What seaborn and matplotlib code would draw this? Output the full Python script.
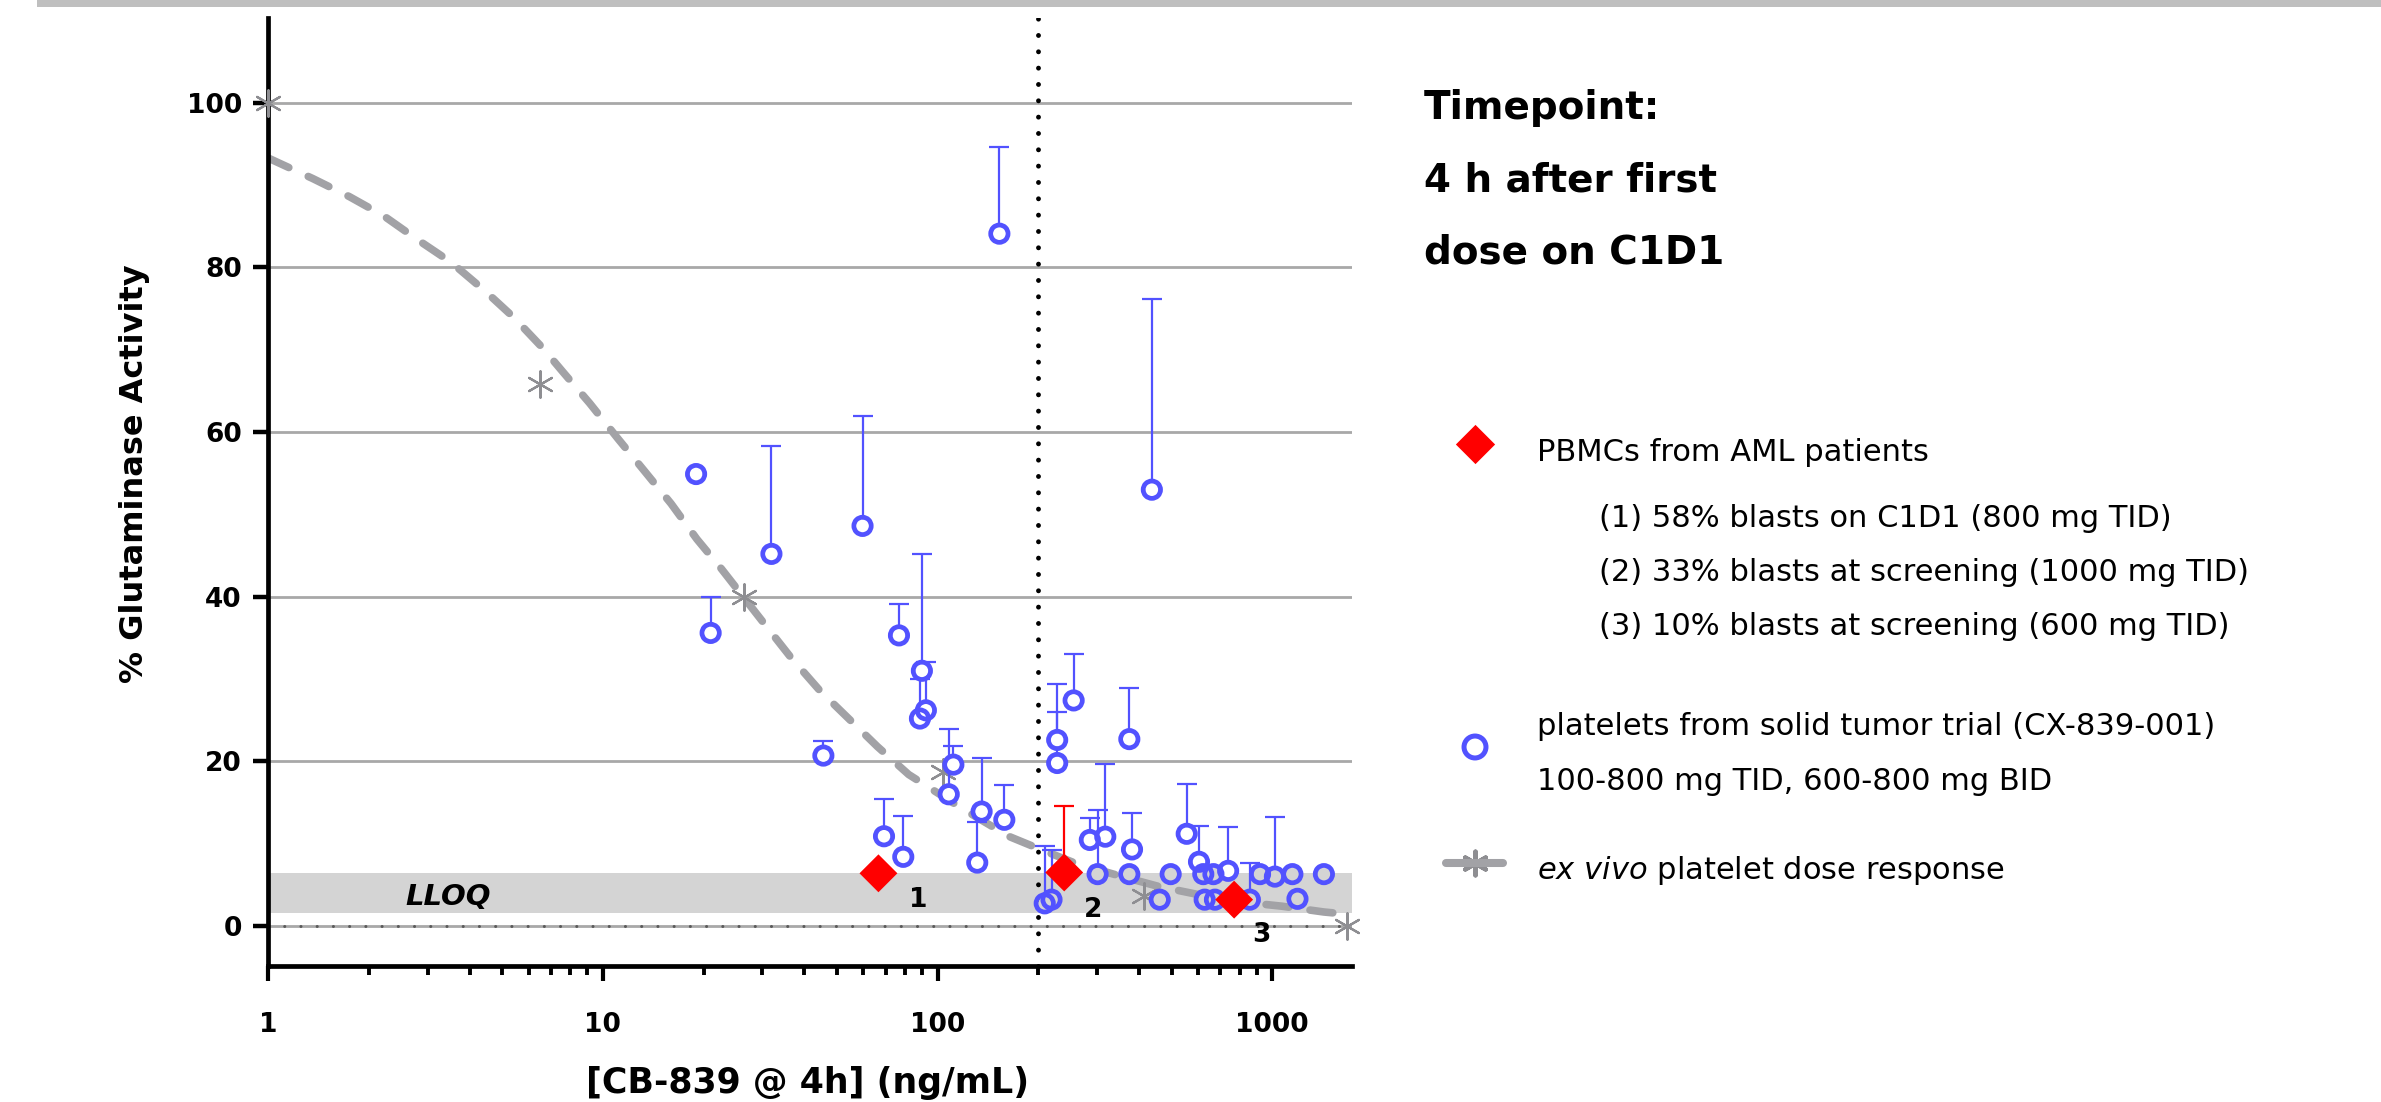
import numpy as np
import matplotlib
matplotlib.use("Agg")
import matplotlib.pyplot as plt
from matplotlib.patches import Rectangle
from matplotlib.ticker import FixedLocator, LogLocator, NullFormatter
import seaborn as sns

# platelets from solid tumor trial: CB-839 conc (ng/mL), % activity, top of error bar
plt_conc = [19.0, 21.0, 31.9, 45.6, 59.7, 69.2, 79.0, 76.7, 89.8, 92.3, 88.6, 108, 111.5,
            131.4, 135.4, 158.3, 153, 209, 219, 227.7, 227.7, 255, 285, 300.7, 317, 374,
            381, 374, 436.7, 461, 497, 555, 604, 622, 667, 628, 674, 738, 857, 919, 1018,
            1148, 1189, 1426]
plt_act = [54.9, 35.6, 45.2, 20.7, 48.6, 10.9, 8.4, 35.3, 31.0, 26.2, 25.2, 16.0, 19.6,
           7.7, 13.9, 12.9, 84.1, 2.75, 3.2, 19.8, 22.6, 27.4, 10.45, 6.3, 10.85, 22.7,
           9.3, 6.3, 53.0, 3.2, 6.3, 11.2, 7.8, 6.3, 6.3, 3.2, 3.2, 6.7, 3.2, 6.3, 6.0,
           6.3, 3.3, 6.3]
plt_err_top = [54.9, 40.0, 58.3, 22.5, 62.0, 15.4, 13.4, 39.1, 45.2, 32.1, 30.0, 23.9, 21.9,
               12.6, 20.4, 17.1, 94.6, 9.75, 9.2, 26.0, 29.4, 33.0, 13.1, 14.1, 19.7, 28.9,
               13.7, 6.3, 76.2, 3.2, 6.3, 17.3, 12.1, 6.3, 6.3, 3.2, 3.2, 12.0, 7.7, 6.3, 13.2,
               6.3, 3.3, 6.3]

# PBMCs from AML patients
aml_conc = [66.6, 239, 769]
aml_act = [6.4, 6.5, 3.2]
aml_err_top = [6.4, 14.6, 3.2]
aml_ids = ["1", "2", "3"]
aml_id_x = [87.3, 292, 925]
aml_id_y = [3.1, 1.9, -1.1]
aml_notes = ["(1) 58% blasts on C1D1 (800 mg TID)",
             "(2) 33% blasts at screening (1000 mg TID)",
             "(3) 10% blasts at screening (600 mg TID)"]

ev_conc = [1, 6.5, 26.4, 104, 414, 1670]
ev_act = [100, 65.8, 40.0, 18.7, 3.6, 0.0]
fit_conc = [1.0, 1.36, 1.75, 2.21, 2.79, 3.53, 4.46, 5.43, 6.62, 7.64, 9.14, 11.1, 13.3,
            16.0, 19.1, 22.5, 30.0, 36.5, 44.5, 53.3, 66.1, 82.0, 117, 163, 206, 259, 356,
            458, 604, 795, 1071, 1426, 1560]
fit_act = [93.3, 90.8, 88.6, 86.3, 83.4, 80.6, 77.1, 73.9, 70.2, 67.2, 63.5, 59.2, 55.3,
           51.3, 47.0, 43.5, 37.0, 32.6, 28.6, 25.5, 21.8, 18.4, 14.4, 10.9, 9.2, 7.6, 6.0,
           4.8, 3.8, 2.95, 2.4, 1.7, 1.55]

lloq_lo, lloq_hi = 1.6, 6.4
cutoff = 200
y_ticks = [0, 20, 40, 60, 80, 100]
x_ticks = [1, 10, 100, 1000]

BLUE = "#5252ff"
RED = "#ff0000"
GRAY = "#a2a2a6"
STAR = "#8e8e92"
BAND = "#d4d4d4"

sns.set_theme(style="white")
plt.rcParams["font.family"] = ["DejaVu Sans"]
plt.rcParams["text.color"] = "black"

W, H = 2381, 1102
fig = plt.figure(figsize=(W / 100, H / 100), dpi=100)
ax = fig.add_axes([268 / W, 1 - 966 / H, 1084 / W, 948 / H])
ax.set_xscale("log")
ax.set_xlim(1, 1730)
ax.set_ylim(-4.86, 110.3)

# background: grid, LLOQ band, zero line, cutoff line
ax.set_yticks(y_ticks)
ax.yaxis.grid(True, color="#a8a8a8", lw=2)
ax.set_axisbelow(True)
ax.axhspan(lloq_lo, lloq_hi, color=BAND, lw=0, zorder=0.8)
ax.axhline(0, color="#5a5a5a", lw=2.2, dashes=(0.01, 5.3), dash_capstyle="round", zorder=1)
ax.axvline(cutoff, color="black", lw=3.5, dashes=(0.01, 3.35), dash_capstyle="round", zorder=2.4)
ax.text(2.57, 3.5, "LLOQ", fontsize=21, fontweight="bold", fontstyle="italic",
        va="center", ha="left", zorder=3)

# ex vivo dose response
sns.lineplot(x=fit_conc, y=fit_act, ax=ax, color=GRAY, lw=5.5, sort=False, estimator=None,
             linestyle=(0, (3.0, 2.8)), dash_capstyle="round", zorder=2.5)
sns.scatterplot(x=ev_conc, y=ev_act, ax=ax, marker=(6, 2, 0), s=19 ** 2, color=STAR,
                edgecolor=STAR, linewidth=1.6, zorder=2.6, clip_on=False)

# platelets: upper error bars, masked interiors, open rings
act = np.array(plt_act)
ax.errorbar(plt_conc, act, yerr=[np.zeros(len(act)), np.array(plt_err_top) - act],
            fmt="none", ecolor=BLUE, elinewidth=1.6, capsize=7.5, capthick=1.6, zorder=2.7)
inner = [BAND if lloq_lo <= v < lloq_hi else "white" for v in plt_act]
ax.scatter(plt_conc, plt_act, s=9.6 ** 2, c=inner, linewidths=0, zorder=3)
sns.scatterplot(x=plt_conc, y=plt_act, ax=ax, s=12.5 ** 2, facecolor="none", edgecolor=BLUE,
                linewidth=3.4, zorder=4)

# AML PBMCs
a_act = np.array(aml_act)
ax.errorbar(aml_conc, a_act, yerr=[np.zeros(3), np.array(aml_err_top) - a_act], fmt="none",
            ecolor=RED, elinewidth=1.6, capsize=7.5, capthick=1.6, zorder=4.5)
sns.scatterplot(x=aml_conc, y=aml_act, ax=ax, marker="D", s=19.3 ** 2, color=RED,
                edgecolor="none", linewidth=0, zorder=5)
for lab, tx, ty in zip(aml_ids, aml_id_x, aml_id_y):
    ax.text(tx, ty, lab, fontsize=19, fontweight="bold", ha="center", va="center", zorder=6)

# axes styling
ax.xaxis.set_major_locator(FixedLocator(x_ticks))
ax.set_xticklabels([str(v) for v in x_ticks])
ax.xaxis.set_minor_locator(LogLocator(base=10, subs=np.arange(2, 10), numticks=20))
ax.xaxis.set_minor_formatter(NullFormatter())
ax.tick_params(axis="both", which="both", direction="out", color="black",
               labelcolor="black", bottom=True, left=True)
ax.tick_params(axis="y", which="major", length=10.8, width=3.2, pad=8, labelsize=19)
ax.tick_params(axis="x", which="major", length=11, width=3, pad=22, labelsize=19)
ax.tick_params(axis="x", which="minor", length=6.5, width=2.8)
for t in ax.get_xticklabels() + ax.get_yticklabels():
    t.set_fontweight("bold")
sns.despine(ax=ax)
for side in ("left", "bottom"):
    ax.spines[side].set_linewidth(3.4)
    ax.spines[side].set_color("black")

ax.set_ylabel("% Glutaminase Activity", fontsize=23, fontweight="bold", color="black")
ax.yaxis.set_label_coords(-0.109, 0.519)
ax.set_xlabel("[CB-839 @ 4h] (ng/mL)", fontsize=25, fontweight="bold", color="black")
ax.xaxis.set_label_coords(0.498, -0.105)

# top rule
fig.add_artist(Rectangle((37 / W, 1 - 7 / H), 1 - 37 / W, 7 / H, transform=fig.transFigure,
                         color="#bfbfbf", lw=0))

# annotation / legend panel in pixel coordinates
lax = fig.add_axes([0, 0, 1, 1], zorder=-1)
lax.set_xlim(0, W)
lax.set_ylim(H, 0)
lax.axis("off")

for txt, yb in zip(["Timepoint:", "4 h after first", "dose on C1D1"], [119, 192, 264]):
    lax.text(1424, yb, txt, fontsize=28, fontweight="bold", va="baseline", color="black")

lax.scatter([1475], [444], marker="D", s=20 ** 2, color=RED, linewidths=0)
lax.text(1537, 461, "PBMCs from AML patients", fontsize=22, va="baseline", color="black")
for txt, yb in zip(aml_notes, [527, 581, 635]):
    lax.text(1599, yb, txt, fontsize=22, va="baseline", color="black")

lax.scatter([1475], [747], s=15.8 ** 2, facecolor="none", edgecolor=BLUE, linewidths=3.6)
lax.text(1537, 735, "platelets from solid tumor trial (CX-839-001)", fontsize=22,
         va="baseline", color="black")
lax.text(1537, 790, "100-800 mg TID, 600-800 mg BID", fontsize=22, va="baseline", color="black")

lax.plot([1446, 1503], [863, 863], color=GRAY, lw=5.8)
lax.scatter([1475], [863], marker=(6, 2, 0), s=17 ** 2, color=STAR, linewidths=3.2)
lax.text(1537, 879, r"$\mathit{ex\ vivo}$ platelet dose response", fontsize=22,
         va="baseline", color="black")

fig.savefig("out.png", dpi=100)
